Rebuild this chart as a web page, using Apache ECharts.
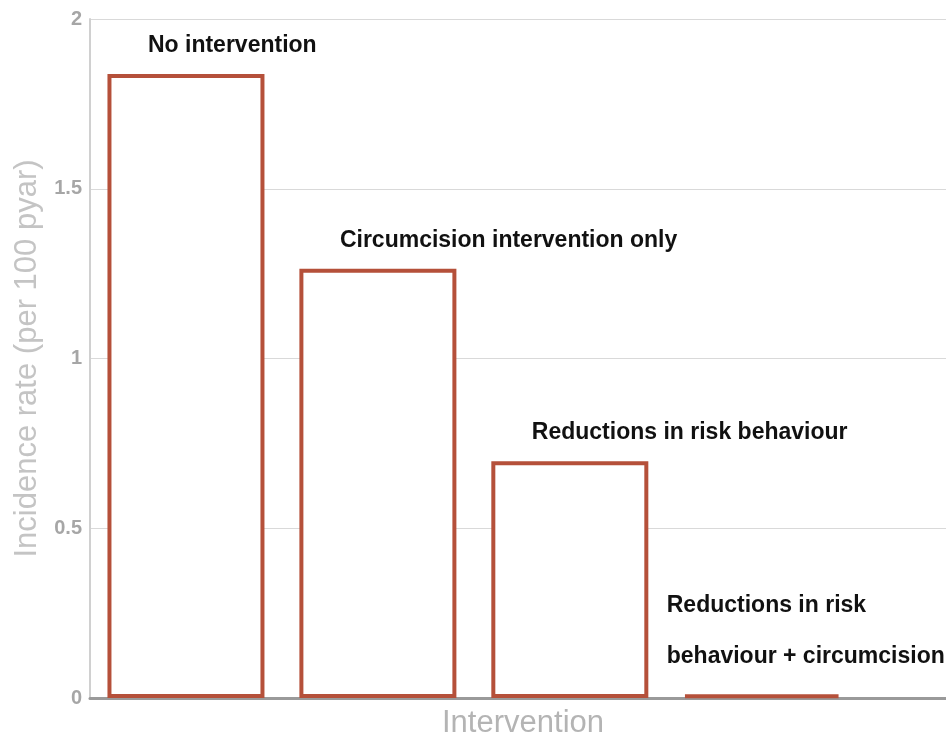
<!DOCTYPE html>
<html>
<head>
    <meta charset="utf-8">
    <title>Incidence rate by intervention</title>
    <script src="https://cdn.jsdelivr.net/npm/echarts@6/dist/echarts.min.js"></script>
    <style type="text/css">
        html, body { margin: 0; padding: 0; background: #fff; }
        #main { width: 946px; height: 739px; }
    </style>
</head>
<body>
    <div id="main"></div>

    <script type="text/javascript">

        var interventions = [
            'No intervention',
            'Circumcision intervention only',
            'Reductions in risk behaviour',
            'Reductions in risk\nbehaviour + circumcision'
        ];
        var incidence = [1.838, 1.264, 0.697, 0.01];
        var yTicks = [0, 0.5, 1, 1.5, 2];

        var chart = echarts.init(document.getElementById('main'));

        var barData = [];
        for (var i = 0; i < incidence.length; i++) {
            var item = { value: [i, incidence[i]], name: interventions[i] };
            if (i == 3) {
                // last one sits on the axis, text goes in two loose lines
                item.label = { offset: [-95, -7], lineHeight: 51 };
            }
            barData.push(item);
        }

        var option = {
            animation: false,
            grid: { left: 90, right: 0, top: 19, bottom: 41, outerBoundsMode: 'none' },
            xAxis: {
                type: 'value',
                min: -0.5,
                max: 3.96,
                name: 'Intervention',
                nameLocation: 'middle',
                nameGap: 10,
                nameTextStyle: { color: '#b4b4b4', fontSize: 31, fontFamily: 'Liberation Sans', padding: [0, 0, 0, 10] },
                axisLine: { show: true, lineStyle: { color: '#9a9a9a', width: 3 } },
                axisTick: { show: false },
                axisLabel: { show: false },
                splitLine: { show: false }
            },
            yAxis: {
                type: 'value',
                min: yTicks[0],
                max: yTicks[yTicks.length - 1],
                interval: 0.5,
                name: 'Incidence rate (per 100 pyar)',
                nameLocation: 'middle',
                nameGap: 37,
                nameTextStyle: { color: '#c4c4c4', fontSize: 31, fontFamily: 'Liberation Sans' },
                axisLine: { show: true, onZero: false, lineStyle: { color: '#d0d0d0', width: 2 } },
                axisTick: { show: false },
                axisLabel: {
                    color: '#a6a6a6',
                    fontSize: 20,
                    fontWeight: 'bold',
                    fontFamily: 'Liberation Sans',
                    margin: 8
                },
                splitLine: { lineStyle: { color: '#d9d9d9', width: 1 } }
            },
            series: [
                {
                    type: 'bar',
                    data: barData,
                    barWidth: 157,
                    itemStyle: {
                        color: '#ffffff',
                        borderColor: '#b5503a',
                        borderWidth: 4
                    },
                    label: {
                        show: true,
                        position: 'top',
                        align: 'left',
                        offset: [-38, -12],
                        formatter: '{b}',
                        color: '#111',
                        fontSize: 23,
                        fontWeight: 'bold',
                        fontFamily: 'Liberation Sans'
                    }
                }
            ]
        };
        chart.setOption(option);

    </script>
</body>
</html>
